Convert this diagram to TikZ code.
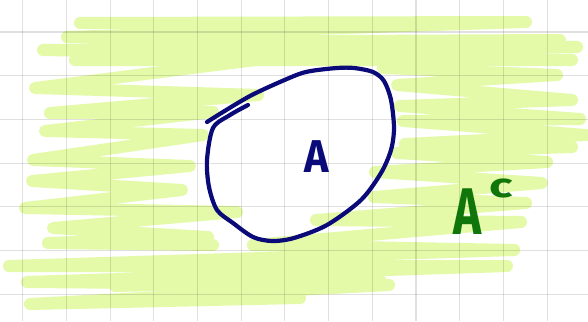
\documentclass[tikz,border=0pt]{standalone}
\usepackage{fontspec}
\newfontfamily\hand{Fira Sans}
\definecolor{hilite}{RGB}{228,250,168}
\definecolor{setblue}{RGB}{10,10,120}
\definecolor{compgreen}{RGB}{16,118,12}
\tikzset{
  scribble/.style={draw=hilite, line width=12pt, line cap=round, line join=round},
  gridline/.style={draw=black, draw opacity=0.12, line width=1.1pt},
  blobline/.style={draw=setblue, line width=4.2pt, line cap=round, line join=round},
}
\begin{document}
\begin{tikzpicture}[x=1pt,y=-1pt]
\useasboundingbox[fill=white] (0,0) rectangle (588,321);
% highlighter scribble
\draw[scribble] (80,23) -- (526,22) -- (67,37) -- (577,47) -- (43,50) -- (572,60) -- (75,60) -- (279,57);
\draw[scribble] (120,42) -- (560,40) -- (100,55) -- (540,54);
\draw[scribble] (279,57) -- (35,88) -- (258,95) -- (50,113) -- (213,112) -- (45,131) -- (203,135) -- (33,160) -- (190,166) -- (32,181) -- (182,190) -- (25,208) -- (237,212) -- (53,228) -- (208,237) -- (48,243) -- (213,245);
\draw[scribble] (383,68) -- (557,75) -- (397,85) -- (572,100) -- (400,106) -- (580,119) -- (403,121) -- (586,135) -- (405,144) -- (572,147) -- (397,153) -- (547,162) -- (375,172) -- (542,183) -- (374,197) -- (526,203) -- (316,220) -- (521,222) -- (253,245) -- (514,250);
\draw[scribble] (514,250) -- (9,266) -- (507,266) -- (27,282) -- (389,285) -- (30,304) -- (300,298);
\draw[scribble] (115,286) -- (380,280);
% grid
\foreach \gx in {22.7,66.4,...,560} \draw[gridline] (\gx,0) -- (\gx,321);
\foreach \gy in {32,75.7,...,320} \draw[gridline] (0,\gy) -- (588,\gy);
% set A boundary
\draw[blobline] plot[smooth,tension=0.5] coordinates {(248,105) (230,115) (213,128) (207,160) (209,187) (217,210) (233,223) (253,237) (272,241) (294,238) (327,225) (361,200) (381,173) (391,150) (394,128) (391,100) (384,81) (373,72) (354,68) (337,68) (311,71) (294,76) (250,96) (207,122)};
% labels
\node[text=setblue, font=\hand\bfseries\fontsize{46}{46}\selectfont, inner sep=0pt, xscale=0.9] (setA) at (317,157) {A};
\node[text=compgreen, font=\hand\bfseries\fontsize{66}{66}\selectfont, inner sep=0pt, xscale=0.72, anchor=base west] (comp) at (453,234) {A\hspace{12pt}\raisebox{37pt}{\scalebox{2}[1]{\fontsize{34}{34}\selectfont c}}};
\end{tikzpicture}
\end{document}
